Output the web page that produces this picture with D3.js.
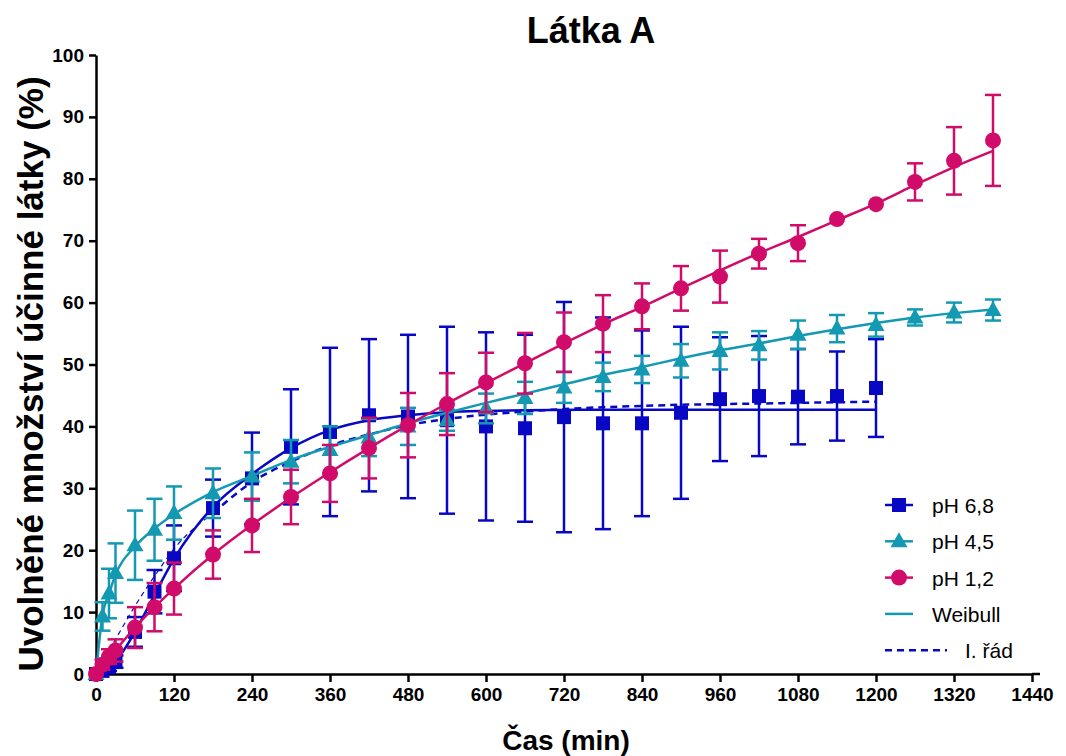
<!DOCTYPE html>
<html>
<head>
<meta charset="utf-8">
<script src="https://cdn.jsdelivr.net/npm/d3@7"></script>
<style>
  body { margin: 0; background: #fff; }
  svg { font-family: "Liberation Sans", Arial, sans-serif; }
</style>
</head>
<body>
<svg id="chart" width="1066" height="756"></svg>
<script>
// sampling times (min)
const times = [0, 10, 20, 30, 60, 90, 120, 180, 240, 300, 360, 420, 480, 540, 600, 660,
  720, 780, 840, 900, 960, 1020, 1080, 1140, 1200, 1260, 1320, 1380];

// pH 6,8 (only until 1200 min)
const ph68 = [0, 0.5, 1.1, 2.0, 6.8, 13.3, 18.7, 26.8, 31.6, 36.7, 39.1, 41.8, 41.6, 41.0,
  40.0, 39.7, 41.5, 40.5, 40.5, 42.2, 44.4, 44.9, 44.8, 44.9, 46.2];
const ph68sd = [0, 0.3, 0.6, 1.0, 2.4, 3.5, 5.3, 4.6, 7.4, 9.3, 13.6, 12.3, 13.2, 15.1,
  15.2, 15.1, 18.6, 17.1, 15.0, 13.9, 10.0, 9.7, 7.7, 7.2, 7.9];

const ph45 = [0, 9.3, 13.0, 16.3, 20.8, 23.3, 26.0, 29.2, 31.9, 34.3, 36.2, 38.2, 40.0, 41.0,
  42.9, 44.6, 46.3, 48.0, 49.2, 50.6, 52.2, 53.1, 54.8, 55.8, 56.4, 57.6, 58.4, 58.8];
const ph45sd = [0, 2.3, 4.0, 4.8, 5.6, 5.0, 4.3, 4.0, 3.9, 3.5, 3.8, 3.0, 3.0, 1.7,
  2.4, 2.6, 2.5, 2.3, 2.2, 2.7, 3.0, 2.3, 2.3, 2.2, 1.9, 1.3, 1.6, 1.7];

const ph12 = [0, 1.5, 2.8, 3.8, 7.5, 10.8, 13.8, 19.3, 24.0, 28.6, 32.4, 36.5, 40.2, 43.6,
  47.1, 50.2, 53.6, 56.6, 59.4, 62.3, 64.2, 67.9, 69.6, 73.5, 75.9, 79.5, 82.9, 86.2];
const ph12sd = [0, 0.8, 1.2, 1.8, 3.3, 3.9, 4.2, 3.9, 4.3, 4.4, 4.6, 4.9, 5.2, 5.0,
  4.8, 4.9, 4.8, 4.6, 3.7, 3.6, 4.2, 2.4, 2.9, 0.3, 0.3, 3.0, 5.45, 7.35];

// fitted curves (same time grid)
const fit68weibull = [0, 0.4, 1.0, 2.0, 6.8, 12.8, 18.6, 27.0, 32.3, 36.5, 39.4, 41.0, 41.8,
  42.3, 42.5, 42.6, 42.65, 42.7, 42.7, 42.7, 42.7, 42.7, 42.7, 42.7, 42.7];
const fit68order1 = [0, 1.8, 3.8, 5.6, 11.0, 15.8, 20.2, 26.0, 31.0, 34.3, 36.9, 38.7, 40.2,
  41.2, 41.9, 42.4, 42.8, 43.1, 43.3, 43.5, 43.6, 43.7, 43.8, 43.9, 44.0];
const fit45weibull = [0, 9.5, 13.0, 16.0, 20.6, 23.5, 25.8, 29.4, 32.0, 34.6, 36.7, 38.6, 40.5,
  42.2, 43.8, 45.3, 46.8, 48.3, 49.6, 51.0, 52.3, 53.4, 54.6, 55.7, 56.7, 57.6, 58.3, 58.9];
const fit12weibull = [0, 1.5, 2.8, 3.9, 7.5, 10.8, 13.8, 19.3, 24.1, 28.5, 32.6, 36.5, 40.2,
  43.7, 47.0, 50.2, 53.4, 56.5, 59.3, 62.3, 65.2, 68.0, 70.6, 73.3, 76.0, 79.0, 81.9, 84.5];

const xTicks = d3.range(0, 1441, 120);
const yTicks = d3.range(0, 101, 10);

const legendLabels = ["pH 6,8", "pH 4,5", "pH 1,2", "Weibull", "I. řád"];

const blue = "#0808c4", teal = "#1499b2", pink = "#d10b69";

const svg = d3.select("#chart");
const x = d3.scaleLinear().domain([0, 1440]).range([96, 1032]);
const y = d3.scaleLinear().domain([0, 100]).range([674, 55]);

// axes
let xAxis = svg.append("g")
  .attr("transform", `translate(0, ${y(0)})`)
  .call(d3.axisBottom(x).tickValues(xTicks).tickFormat(d3.format("d"))
    .tickSize(8).tickSizeOuter(0).tickPadding(6));
let yAxis = svg.append("g")
  .attr("transform", `translate(${x(0)}, 0)`)
  .call(d3.axisLeft(y).tickValues(yTicks).tickFormat(d3.format("d"))
    .tickSize(7).tickSizeOuter(0).tickPadding(5));

[xAxis, yAxis].forEach(a => {
  a.selectAll("path.domain").attr("stroke", "#000").attr("stroke-width", 2.5);
  a.selectAll(".tick line").attr("stroke", "#000").attr("stroke-width", 2.5);
  a.selectAll("text")
    .attr("fill", "#000")
    .attr("font-size", 19)
    .attr("font-weight", "bold")
    .attr("font-family", "Liberation Sans, Arial, sans-serif");
});
// x axis line runs a bit past the last tick
xAxis.append("line")
  .attr("x1", x(1440)).attr("x2", x(1440) + 8)
  .attr("stroke", "#000").attr("stroke-width", 2.5);

// titles
svg.append("text")
  .attr("x", 591).attr("y", 43)
  .attr("text-anchor", "middle")
  .attr("font-size", 36).attr("font-weight", "bold")
  .text("Látka A");

svg.append("text")
  .attr("x", 566).attr("y", 750)
  .attr("text-anchor", "middle")
  .attr("font-size", 28).attr("font-weight", "bold")
  .text("Čas (min)");

svg.append("text")
  .attr("transform", "translate(43, 374) rotate(-90)")
  .attr("text-anchor", "middle")
  .attr("font-size", 35).attr("font-weight", "bold")
  .text("Uvolněné množství účinné látky (%)");

// helpers
let line = d3.line().x(d => x(d[0])).y(d => y(d[1])).curve(d3.curveMonotoneX);

let markerPath = (shape) => {
  if (shape === "square") return "M-7,-7H7V7H-7Z";
  if (shape === "triangle") return "M0,-9L8.5,6L-8.5,6Z";
  return d3.symbol(d3.symbolCircle, Math.PI * 8 * 8)();
};

let drawFit = (vals, color, dash, width, from, to) => {
  let pts = vals.map((v, i) => [times[i], v]).slice(from || 0, to);
  svg.append("path")
    .datum(pts)
    .attr("fill", "none")
    .attr("stroke", color)
    .attr("stroke-width", width || 2.5)
    .attr("stroke-dasharray", dash || null)
    .attr("d", line);
};

let drawSeries = (vals, sd, color, shape) => {
  let data = vals.map((v, i) => ({ t: times[i], v: v, sd: sd[i] }));
  let g = svg.append("g");
  let bars = g.selectAll("g.err").data(data.filter(d => d.sd > 0.5)).enter().append("g")
    .attr("stroke", color).attr("stroke-width", 2.5);
  bars.append("line")
    .attr("x1", d => x(d.t)).attr("x2", d => x(d.t))
    .attr("y1", d => y(d.v - d.sd)).attr("y2", d => y(d.v + d.sd));
  bars.append("line")
    .attr("x1", d => x(d.t) - 8).attr("x2", d => x(d.t) + 8)
    .attr("y1", d => y(d.v + d.sd)).attr("y2", d => y(d.v + d.sd));
  bars.append("line")
    .attr("x1", d => x(d.t) - 8).attr("x2", d => x(d.t) + 8)
    .attr("y1", d => y(d.v - d.sd)).attr("y2", d => y(d.v - d.sd));
  g.selectAll("path.mk").data(data).enter().append("path")
    .attr("class", "mk")
    .attr("d", markerPath(shape))
    .attr("fill", color)
    .attr("transform", d => `translate(${x(d.t)}, ${y(d.v)})`);
};

// first-order fit: thin in the early part, thick later (as in the original)
drawFit(fit68order1, blue, "5,4", 1.2, 0, 8);
drawFit(fit68order1, blue, "7,5", 2.5, 7);
drawFit(fit68weibull, blue);
drawSeries(ph68, ph68sd, blue, "square");
drawFit(fit45weibull, teal);
drawSeries(ph45, ph45sd, teal, "triangle");
drawFit(fit12weibull, pink);
drawSeries(ph12, ph12sd, pink, "circle");

// legend
const legendItems = [
  { color: blue, shape: "square" },
  { color: teal, shape: "triangle" },
  { color: pink, shape: "circle" },
  { color: teal, shape: null },
  { color: blue, shape: null, dash: "7,5" }
];
let legend = svg.append("g").attr("transform", "translate(885, 505)");
legendItems.forEach((it, i) => {
  let row = legend.append("g").attr("transform", `translate(0, ${i * 36.3})`);
  let w = it.dash ? 62 : 28;
  row.append("line")
    .attr("x1", 0).attr("x2", w)
    .attr("stroke", it.color).attr("stroke-width", 2.5)
    .attr("stroke-dasharray", it.dash || null);
  if (it.shape) {
    row.append("path")
      .attr("d", markerPath(it.shape))
      .attr("fill", it.color)
      .attr("transform", "translate(14, 0)");
  }
  row.append("text")
    .attr("x", it.dash ? 80 : 47).attr("y", 8)
    .attr("font-size", 21)
    .text(legendLabels[i]);
});
</script>
</body>
</html>
